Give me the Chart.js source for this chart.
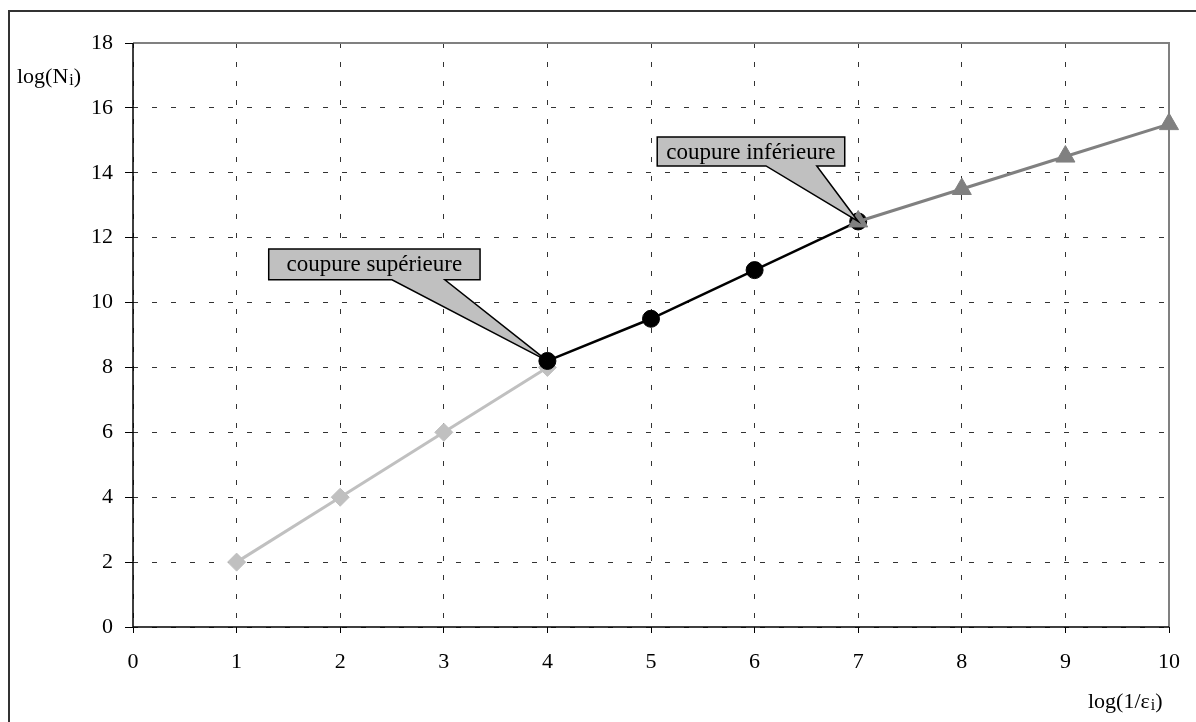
<!DOCTYPE html>
<html>
<head>
<meta charset="utf-8">
<script src="https://cdn.jsdelivr.net/npm/chart.js@4"></script>
<style>
  html, body { margin: 0; padding: 0; background: #fff; }
  #wrap { width: 1196px; height: 722px; position: relative; }
</style>
</head>
<body>
<div id="wrap"><canvas id="grafico"></canvas></div>
<script>
// valeurs
const xBas = [1, 2, 3, 4];
const yBas = [2, 4, 6, 8];
const xMilieu = [4, 5, 6, 7];
const yMilieu = [8.2, 9.5, 11, 12.5];
const xHaut = [7, 8, 9, 10];
const yHaut = [12.5, 13.5, 14.5, 15.5];

const xTicks = [0, 1, 2, 3, 4, 5, 6, 7, 8, 9, 10];
const yTicks = [0, 2, 4, 6, 8, 10, 12, 14, 16, 18];

const bulles = ["coupure supérieure", "coupure inférieure"];

const serif = "'Liberation Serif', 'Times New Roman', serif";

// position des bulles en unités du graphique (boîte + base de la flèche + point visé)
const placeBulles = [
  { x0: 1.31, x1: 3.35, yTop: 11.65, yBot: 10.70, b0: 2.50, b1: 3.01, px: xMilieu[0], py: yMilieu[0] },
  { x0: 5.06, x1: 6.87, yTop: 15.10, yBot: 14.21, b0: 6.11, b1: 6.60, px: xHaut[0], py: yHaut[0] }
];

const pts = (xs, ys) => xs.map((x, i) => ({ x, y: ys[i] }));

const cadre = {
  id: "cadre",
  beforeDraw(chart) {
    const c = chart.ctx;
    c.save();
    c.fillStyle = "#fff";
    c.fillRect(0, 0, chart.width, chart.height);
    c.strokeStyle = "#333";
    c.lineWidth = 2;
    c.strokeRect(9, 11, chart.width + 20, chart.height + 20);
    c.restore();
  },
  beforeDatasetsDraw(chart) {
    const a = chart.chartArea;
    const c = chart.ctx;
    c.save();
    c.setLineDash([]);
    c.strokeStyle = "#808080";
    c.lineWidth = 2;
    c.beginPath();
    c.moveTo(a.left, a.top);
    c.lineTo(a.right, a.top);
    c.lineTo(a.right, a.bottom);
    c.stroke();
    // axes pleins
    c.strokeStyle = "#000";
    c.lineWidth = 1.5;
    c.beginPath();
    c.moveTo(a.left, a.top);
    c.lineTo(a.left, a.bottom);
    c.lineTo(a.right, a.bottom);
    c.stroke();
    c.restore();
  },
  afterDatasetsDraw(chart) {
    const c = chart.ctx;
    const sx = chart.scales.x, sy = chart.scales.y;
    c.save();
    placeBulles.forEach((p, i) => {
      const l = sx.getPixelForValue(p.x0), r = sx.getPixelForValue(p.x1);
      const t = sy.getPixelForValue(p.yTop), b = sy.getPixelForValue(p.yBot);
      const b0 = sx.getPixelForValue(p.b0), b1 = sx.getPixelForValue(p.b1);
      const tx = sx.getPixelForValue(p.px), ty = sy.getPixelForValue(p.py);
      c.beginPath();
      c.moveTo(l, t);
      c.lineTo(r, t);
      c.lineTo(r, b);
      c.lineTo(b1, b);
      c.lineTo(tx, ty);
      c.lineTo(b0, b);
      c.lineTo(l, b);
      c.closePath();
      c.fillStyle = "#c0c0c0";
      c.fill();
      c.strokeStyle = "#000";
      c.lineWidth = 1.5;
      c.stroke();
      c.fillStyle = "#000";
      c.font = "23px " + serif;
      c.textAlign = "center";
      c.textBaseline = "middle";
      c.fillText(bulles[i], (l + r) / 2, (t + b) / 2 + 1);
    });

    // titres des axes avec indice
    c.textAlign = "left";
    c.textBaseline = "alphabetic";
    const titre = (avant, x, y) => {
      c.font = "22px " + serif;
      c.fillText(avant, x, y);
      let w = c.measureText(avant).width;
      c.font = "16px " + serif;
      c.fillText("i", x + w + 1, y + 2);
      w += c.measureText("i").width + 1;
      c.font = "22px " + serif;
      c.fillText(")", x + w, y);
    };
    titre("log(N", 17, 83);
    titre("log(1/ε", 1088, 708);
    c.restore();
  }
};

new Chart(document.getElementById("grafico"), {
  type: "line",
  data: {
    datasets: [
      {
        data: pts(xBas, yBas),
        borderColor: "#c0c0c0",
        backgroundColor: "#c0c0c0",
        borderWidth: 3,
        pointStyle: "rectRot",
        pointRadius: 9,
        pointBorderWidth: 1,
        order: 3
      },
      {
        data: pts(xMilieu, yMilieu),
        borderColor: "#000",
        backgroundColor: "#000",
        borderWidth: 2.5,
        pointStyle: "circle",
        pointRadius: 8.5,
        pointBorderWidth: 1,
        order: 2
      },
      {
        data: pts(xHaut, yHaut),
        borderColor: "#808080",
        backgroundColor: "#808080",
        borderWidth: 3,
        pointStyle: "triangle",
        pointRadius: 11,
        pointBorderWidth: 1,
        order: 1
      }
    ]
  },
  options: {
    responsive: true,
    maintainAspectRatio: false,
    animation: false,
    clip: false,
    layout: { padding: { top: 43, right: 26, left: 0, bottom: 0 } },
    plugins: { legend: { display: false }, tooltip: { enabled: false } },
    elements: { line: { tension: 0 } },
    scales: {
      x: {
        type: "linear",
        min: 0,
        max: 10,
        afterBuildTicks: s => { s.ticks = xTicks.map(v => ({ value: v })); },
        afterFit: s => { s.height = 95; },
        grid: { color: "#333", lineWidth: 1, tickLength: 6, tickColor: "#000" },
        border: { display: false, dash: [5, 14] },
        ticks: { color: "#000", font: { family: serif, size: 22 }, padding: 16, maxRotation: 0 }
      },
      y: {
        min: 0,
        max: 18,
        afterBuildTicks: s => { s.ticks = yTicks.map(v => ({ value: v })); },
        afterFit: s => { s.width = 133; },
        grid: { color: "#333", lineWidth: 1, tickLength: 8, tickColor: "#000" },
        border: { display: false, dash: [5, 14] },
        ticks: { color: "#000", font: { family: serif, size: 22 }, padding: 12 }
      }
    }
  },
  plugins: [cadre]
});
</script>
</body>
</html>
